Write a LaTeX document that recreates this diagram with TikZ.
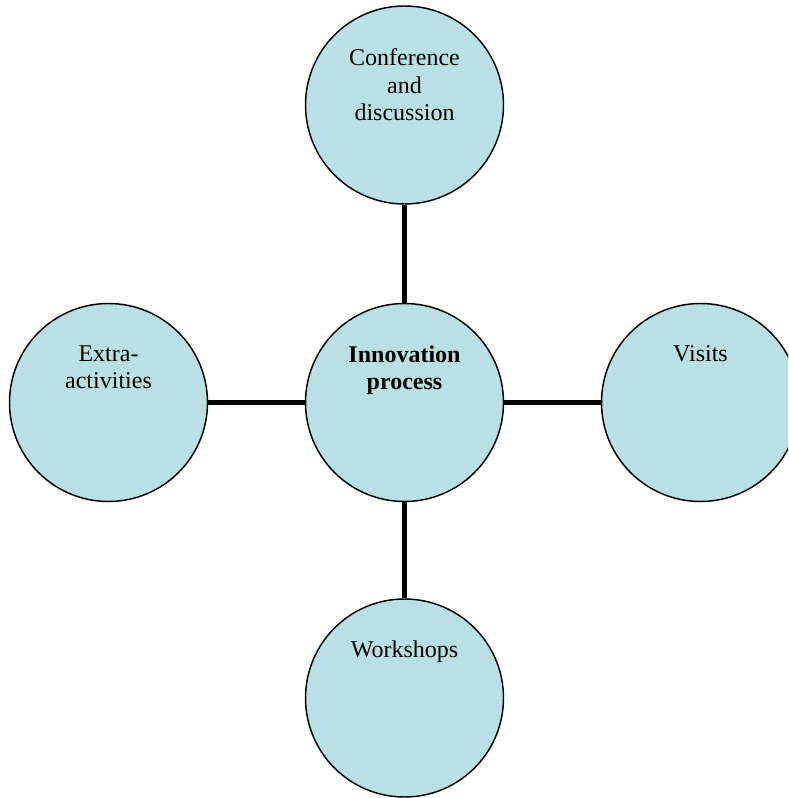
\documentclass[tikz,border=0pt]{standalone}
\usepackage{fontspec}
\setmainfont{Liberation Serif}
\definecolor{bubblefill}{RGB}{185,224,228}
\begin{document}
\begin{tikzpicture}[x=0.75pt,y=-0.75pt,
  bubble/.style={circle,draw=black,line width=1.1pt,fill=bubblefill,
    minimum size=148.5pt,inner sep=0pt},
  caption/.style={anchor=north,align=center,inner sep=0pt,
    font=\fontsize{18}{20.6}\selectfont},
  spoke/.style={line width=4.2pt,black}]
  \useasboundingbox (0,0) rectangle (788,798);
  \clip (0,0) rectangle (788,798);
  % circles
  \node[bubble] (hub)   at (404.5,402.5) {};
  \node[bubble] (conf)  at (404.5,105) {};
  \node[bubble] (extra) at (108.5,402.5) {};
  \node[bubble] (visit) at (700.5,402.5) {};
  \node[bubble] (work)  at (404.5,698) {};
  % spokes
  \draw[spoke] (hub) -- (conf);
  \draw[spoke] (hub) -- (extra);
  \draw[spoke] (hub) -- (visit);
  \draw[spoke] (hub) -- (work);
  % captions
  \node[caption] (hubtxt)   at (404.5,345.5) {\textbf{Innovation}\\\textbf{process}};
  \node[caption] (conftxt)  at (404.5,48.5) {Conference\\and\\discussion};
  \node[caption] (extratxt) at (108.5,345.5) {Extra-\\activities};
  \node[caption] (visittxt) at (700.5,345.5) {Visits};
  \node[caption] (worktxt)  at (404.5,640.5) {Workshops};
\end{tikzpicture}
\end{document}
